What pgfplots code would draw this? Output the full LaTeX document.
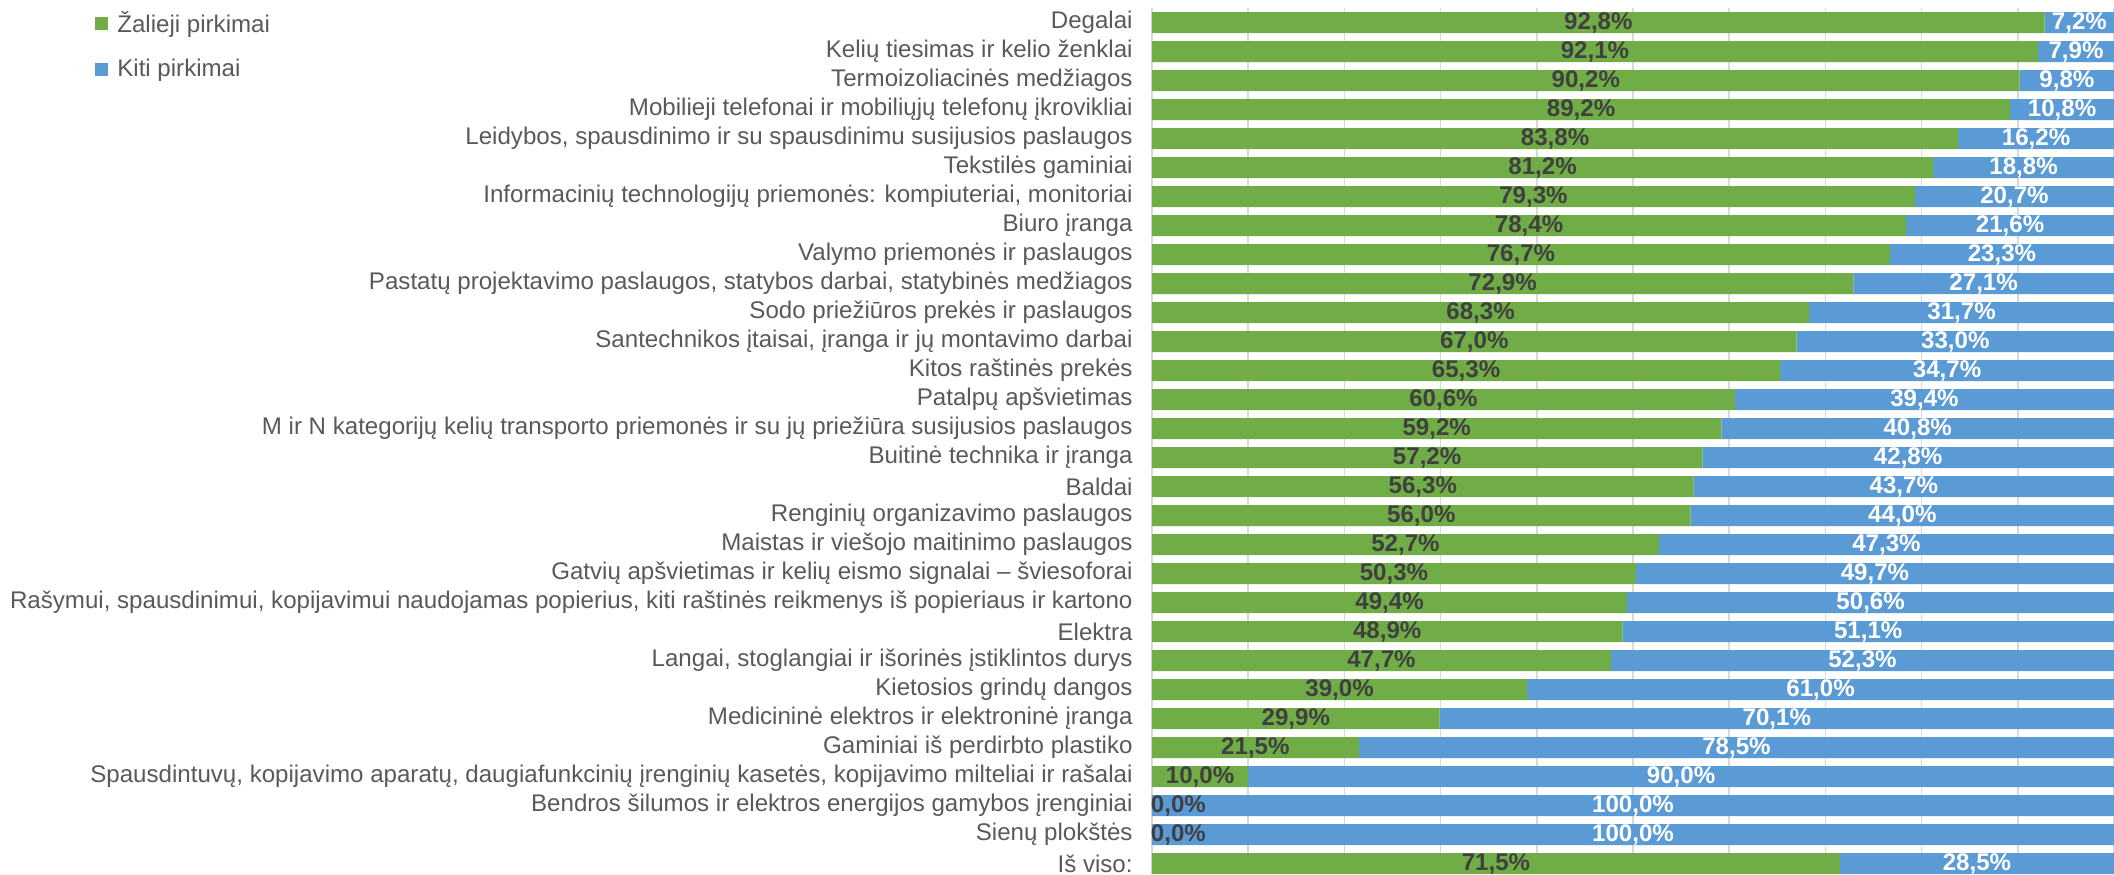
\documentclass[border=0pt]{standalone}
\usepackage{fontspec}
\setmainfont{Liberation Sans}
\usepackage{pgfplots}
\usepackage{pgfplotstable}
\pgfplotsset{compat=1.18}
\definecolor{zal}{HTML}{70AD47}
\definecolor{kiti}{HTML}{5B9BD5}
\definecolor{lbl}{HTML}{595959}
\definecolor{grd}{HTML}{D9D9D9}
\definecolor{dlab}{HTML}{404040}

\pgfplotstableread{
y g b
0 92.8 7.2
1 92.1 7.9
2 90.2 9.8
3 89.2 10.8
4 83.8 16.2
5 81.2 18.8
6 79.3 20.7
7 78.4 21.6
8 76.7 23.3
9 72.9 27.1
10 68.3 31.7
11 67.0 33.0
12 65.3 34.7
13 60.6 39.4
14 59.2 40.8
15 57.2 42.8
16 56.3 43.7
17 56.0 44.0
18 52.7 47.3
19 50.3 49.7
20 49.4 50.6
21 48.9 51.1
22 47.7 52.3
23 39.0 61.0
24 29.9 70.1
25 21.5 78.5
26 10.0 90.0
27 0.0 100.0
28 0.0 100.0
29 71.5 28.5
}\data

\newcommand{\lblfont}{\fontsize{12.05}{14}\selectfont}

\begin{document}
\begin{tikzpicture}
\pgfplotsset{common/.style={scale only axis, width=481pt, height=433pt,
  xmin=0, xmax=100, ymin=-0.5, ymax=29.362, y dir=reverse}}
\begin{axis}[common, xbar stacked, bar width=10.5pt,
  axis line style={draw=none},
  xtick={0,10,...,100}, xticklabels={},
  xmajorgrids, grid style={grd, line width=0.75pt},
  major tick length=0pt,
  ytick={0,...,29},
  yticklabels={
    {Degalai},
    {Kelių tiesimas ir kelio ženklai},
    {Termoizoliacinės medžiagos},
    {Mobilieji telefonai ir mobiliųjų telefonų įkrovikliai},
    {Leidybos, spausdinimo ir su spausdinimu susijusios paslaugos},
    {Tekstilės gaminiai},
    {Informacinių technologijų priemonės: kompiuteriai, monitoriai},
    {Biuro įranga},
    {Valymo priemonės ir paslaugos},
    {Pastatų projektavimo paslaugos, statybos darbai, statybinės medžiagos},
    {Sodo priežiūros prekės ir paslaugos},
    {Santechnikos įtaisai, įranga ir jų montavimo darbai},
    {Kitos raštinės prekės},
    {Patalpų apšvietimas},
    {M ir N kategorijų kelių transporto priemonės ir su jų priežiūra susijusios paslaugos},
    {Buitinė technika ir įranga},
    {Baldai},
    {Renginių organizavimo paslaugos},
    {Maistas ir viešojo maitinimo paslaugos},
    {Gatvių apšvietimas ir kelių eismo signalai – šviesoforai},
    {Rašymui, spausdinimui, kopijavimui naudojamas popierius, kiti raštinės reikmenys iš popieriaus ir kartono},
    {Elektra},
    {Langai, stoglangiai ir išorinės įstiklintos durys},
    {Kietosios grindų dangos},
    {Medicininė elektros ir elektroninė įranga},
    {Gaminiai iš perdirbto plastiko},
    {Spausdintuvų, kopijavimo aparatų, daugiafunkcinių įrenginių kasetės, kopijavimo milteliai ir rašalai},
    {Bendros šilumos ir elektros energijos gamybos įrenginiai},
    {Sienų plokštės},
    {Iš viso:}},
  yticklabel style={font=\lblfont, text=lbl, inner sep=0pt, xshift=-9.5pt},
  legend style={draw=none, fill=none, at={(axis description cs:-1.0988,1.001)},
    anchor=north west, font=\lblfont, text=lbl, inner sep=0pt,
    row sep=7.6pt, legend cell align=left,
    /tikz/every odd column/.append style={column sep=2.5pt}},
]
\addplot[fill=zal, draw=none,
  legend image code/.code={\fill[zal] (0pt,-3.25pt) rectangle (6.5pt,3.25pt);}]
  table[x=g, y=y]{\data};
\addplot[fill=kiti, draw=none,
  legend image code/.code={\fill[kiti] (0pt,-3.25pt) rectangle (6.5pt,3.25pt);}]
  table[x=b, y=y]{\data};
\legend{Žalieji pirkimai, Kiti pirkimai}
\end{axis}
\begin{axis}[common, hide axis, clip=false]
\addplot[draw=none, point meta=explicit,
  nodes near coords={\pgfmathprintnumber[fixed,fixed zerofill,precision=1,use comma,assume math mode=true]{\pgfplotspointmeta}\%},
  every node near coord/.append style={anchor=center, font=\lblfont\bfseries, text=dlab, inner sep=0pt}]
  table[x expr={max(\thisrow{g}/2,2.75)}, y=y, meta=g]{\data};
\addplot[draw=none, point meta=explicit,
  nodes near coords={\pgfmathprintnumber[fixed,fixed zerofill,precision=1,use comma,assume math mode=true]{\pgfplotspointmeta}\%},
  every node near coord/.append style={anchor=center, font=\lblfont\bfseries, text=white, inner sep=0pt}]
  table[x expr={\thisrow{g}+\thisrow{b}/2}, y=y, meta=b]{\data};
\end{axis}
\pgfresetboundingbox
\path (-576pt,0pt) rectangle (481pt,437pt);
\end{tikzpicture}
\end{document}
